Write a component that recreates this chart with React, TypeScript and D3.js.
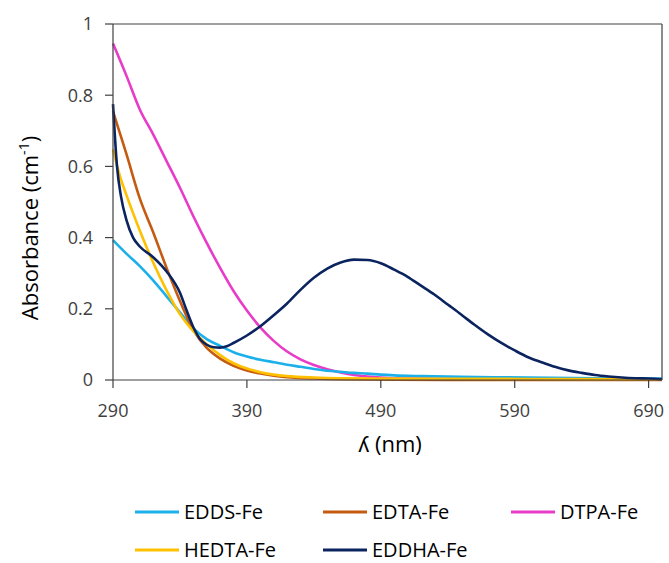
import React from "react";
import * as d3 from "d3";

// Wavelength grids (nm) and absorbance (cm⁻¹) for each Fe chelate
const eddsNm = [290, 300, 310, 320, 330, 340, 350, 360, 370, 380, 390, 400, 410, 420, 430, 440, 450, 460, 470, 480, 490, 500, 520, 550, 600, 650, 700];
const eddsAbs = [0.393, 0.355, 0.32, 0.28, 0.235, 0.19, 0.145, 0.115, 0.096, 0.078, 0.066, 0.057, 0.05, 0.043, 0.037, 0.031, 0.026, 0.023, 0.02, 0.018, 0.015, 0.013, 0.011, 0.009, 0.007, 0.005, 0.004];

const edtaNm = [290, 295, 300, 310, 320, 330, 340, 350, 360, 370, 380, 390, 400, 410, 420, 440, 460, 500, 600, 700];
const edtaAbs = [0.755, 0.695, 0.635, 0.51, 0.415, 0.315, 0.222, 0.14, 0.09, 0.06, 0.04, 0.027, 0.018, 0.012, 0.008, 0.004, 0.002, 0.001, 0.0, 0.0];

const dtpaNm = [290, 300, 310, 320, 330, 340, 350, 360, 370, 380, 390, 400, 410, 420, 430, 440, 450, 460, 470, 480, 490, 500, 520, 550, 600, 700];
const dtpaAbs = [0.945, 0.855, 0.76, 0.69, 0.615, 0.54, 0.46, 0.385, 0.315, 0.25, 0.195, 0.148, 0.11, 0.08, 0.058, 0.042, 0.03, 0.021, 0.014, 0.01, 0.007, 0.005, 0.004, 0.003, 0.002, 0.001];

const hedtaNm = [290, 295, 300, 310, 320, 330, 340, 350, 360, 370, 380, 390, 400, 410, 420, 440, 460, 500, 600, 700];
const hedtaAbs = [0.648, 0.575, 0.52, 0.42, 0.33, 0.252, 0.185, 0.137, 0.1, 0.07, 0.047, 0.032, 0.022, 0.015, 0.011, 0.007, 0.005, 0.004, 0.003, 0.002];

const eddhaNm = [290, 293, 296, 300, 305, 310, 320, 330, 340, 345, 350, 355, 360, 365, 370, 375, 380, 390, 400, 410, 420, 430, 440, 450, 460, 470, 480, 490, 500, 510, 520, 530, 540, 550, 560, 570, 580, 590, 600, 610, 620, 630, 640, 650, 660, 670, 680, 690, 700];
const eddhaAbs = [0.775, 0.6, 0.515, 0.45, 0.4, 0.375, 0.345, 0.305, 0.245, 0.195, 0.148, 0.115, 0.099, 0.092, 0.091, 0.095, 0.104, 0.125, 0.151, 0.182, 0.215, 0.253, 0.287, 0.313, 0.33, 0.338, 0.337, 0.328, 0.31, 0.29, 0.265, 0.24, 0.212, 0.184, 0.155, 0.128, 0.104, 0.083, 0.064, 0.05, 0.037, 0.027, 0.02, 0.014, 0.01, 0.007, 0.005, 0.004, 0.002];

const xTicks = [290, 390, 490, 590, 690];
const yTicks = [0, 0.2, 0.4, 0.6, 0.8, 1];

const series = [
  { name: "EDDS-Fe", nm: eddsNm, abs: eddsAbs, color: "#1CB0EA" },
  { name: "EDTA-Fe", nm: edtaNm, abs: edtaAbs, color: "#C55A11" },
  { name: "DTPA-Fe", nm: dtpaNm, abs: dtpaAbs, color: "#E83CC8" },
  { name: "HEDTA-Fe", nm: hedtaNm, abs: hedtaAbs, color: "#FFC000" },
  { name: "EDDHA-Fe", nm: eddhaNm, abs: eddhaAbs, color: "#0B2460" },
];

// draw order: back to front
const drawOrder = ["DTPA-Fe", "EDDS-Fe", "EDTA-Fe", "HEDTA-Fe", "EDDHA-Fe"];

const W = 669;
const H = 563;
const left = 113;
const right = 662;
const top = 24;
const bottom = 380;
const axisColor = "#404040";
const font = "'Open Sans', sans-serif";

export default function App() {
  const x = d3.scaleLinear().domain([290, 700]).range([left, right]);
  const y = d3.scaleLinear().domain([0, 1]).range([bottom, top]);

  const line = d3
    .line<[number, number]>()
    .x((d) => x(d[0]))
    .y((d) => y(d[1]))
    .curve(d3.curveMonotoneX);

  const legendPos = [
    { lx: 135, ty: 512 },
    { lx: 323, ty: 512 },
    { lx: 511, ty: 512 },
    { lx: 135, ty: 550 },
    { lx: 323, ty: 550 },
  ];

  return (
    <svg
      width={W}
      height={H}
      style={{ position: "absolute", left: 0, top: 0, background: "#fff" }}
      fontFamily={font}
    >
      <rect x={0} y={0} width={W} height={H} fill="#fff" />

      {/* curves */}
      {drawOrder.map((n) => {
        const s = series.find((d) => d.name === n)!;
        const pts = s.nm.map((v, i) => [v, s.abs[i]] as [number, number]);
        return (
          <path key={n} d={line(pts) || ""} fill="none" stroke={s.color} strokeWidth={2.6} strokeLinejoin="round" />
        );
      })}

      {/* frame */}
      <line x1={left} x2={right} y1={top} y2={top} stroke={axisColor} strokeWidth={1.2} />
      <line x1={right} x2={right} y1={top} y2={bottom} stroke={axisColor} strokeWidth={1.2} />
      <line x1={left} x2={left} y1={top} y2={bottom} stroke={axisColor} strokeWidth={1.2} />
      <line x1={left} x2={right} y1={bottom} y2={bottom} stroke={axisColor} strokeWidth={1.2} />

      {/* y axis */}
      {yTicks.map((t) => (
        <g key={t}>
          <line x1={left - 8} x2={left} y1={y(t)} y2={y(t)} stroke={axisColor} strokeWidth={1.2} />
          <text x={93} y={y(t)} dy="0.35em" textAnchor="end" fontSize={18} fill="#404040">
            {d3.format("~g")(t)}
          </text>
        </g>
      ))}

      {/* x axis */}
      {xTicks.map((t) => (
        <g key={t}>
          <line x1={x(t)} x2={x(t)} y1={bottom} y2={bottom + 8} stroke={axisColor} strokeWidth={1.2} />
          <text x={x(t)} y={417} textAnchor="middle" fontSize={18} fill="#404040">
            {t}
          </text>
        </g>
      ))}

      {/* axis titles */}
      <text x={390} y={452} textAnchor="middle" fontSize={22} fill="#000">
        ʎ (nm)
      </text>
      <text transform="translate(38,228) rotate(-90)" textAnchor="middle" fontSize={22} fill="#000">
        Absorbance (cm
        <tspan dy={-9} fontSize={14}>-1</tspan>
        <tspan dy={9}>)</tspan>
      </text>

      {/* legend */}
      {series.map((s, i) => {
        const p = legendPos[i];
        return (
          <g key={s.name}>
            <line x1={p.lx} x2={p.lx + 44} y1={p.ty} y2={p.ty} stroke={s.color} strokeWidth={3} />
            <text x={p.lx + 49} y={p.ty} dy="0.35em" fontSize={20} fill="#000">
              {s.name}
            </text>
          </g>
        );
      })}
    </svg>
  );
}
